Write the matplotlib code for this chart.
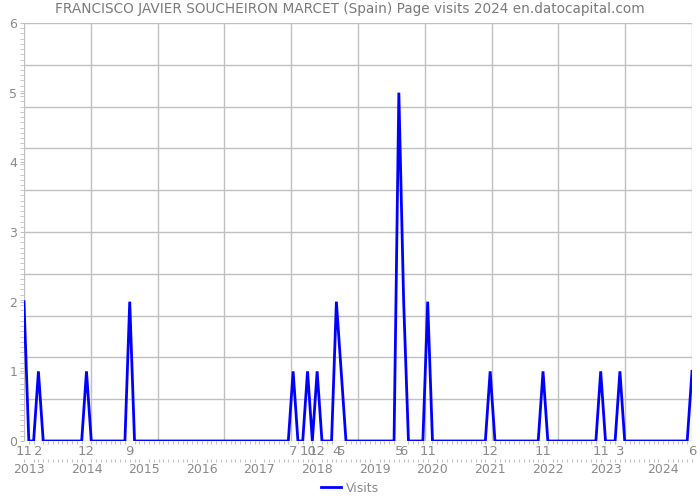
import numpy as np
import pandas as pd
import matplotlib
matplotlib.use("Agg")
import matplotlib.pyplot as plt
from matplotlib.ticker import FixedLocator, MultipleLocator

# ---- data ----
start_month = "2013-11"
end_month = "2025-06"
visit_months = ["2013-11", "2014-02", "2014-12", "2015-09", "2018-07", "2018-10",
                "2018-12", "2019-04", "2019-05", "2020-05", "2020-06", "2020-11",
                "2021-12", "2022-11", "2023-11", "2024-03", "2025-06"]
visit_counts = [2, 1, 1, 2, 1, 1, 1, 2, 1, 5, 2, 2, 1, 1, 1, 1, 1]
year_labels = ["2013", "2014", "2015", "2016", "2017", "2018",
               "2019", "2020", "2021", "2022", "2023", "2024"]
title = "FRANCISCO JAVIER SOUCHEIRON MARCET (Spain) Page visits 2024 en.datocapital.com"
series_name = "Visits"

# ---- build monthly series ----
periods = pd.period_range(start_month, end_month, freq="M")
values = pd.Series(0.0, index=periods)
for m, v in zip(visit_months, visit_counts):
    values[pd.Period(m, freq="M")] = v
x = np.arange(len(periods))
pos = {str(p): i for i, p in enumerate(periods)}

grey_text = "#8a8a8a"
grid_col = "#c0c0c0"

fig = plt.figure(figsize=(7, 5), dpi=100)
ax = fig.add_axes([24 / 700, 1 - 441 / 500, (692 - 24) / 700, (441 - 23) / 500])

ax.set_xlim(0, len(periods) - 1)
ax.set_ylim(0, 6)

# grid lines (10 divisions each way)
for gx in np.linspace(0, len(periods) - 1, 11):
    ax.axvline(gx, color=grid_col, lw=1, zorder=0)
for gy in np.linspace(0, 6, 11):
    ax.axhline(gy, color=grid_col, lw=1, zorder=0)

ax.plot(x, values.values, color="#0000ff", lw=2, label=series_name, zorder=3,
        solid_joinstyle="miter")

for s in ax.spines.values():
    s.set_visible(False)

# y axis: integer labels, small minor ticks
ax.yaxis.set_major_locator(FixedLocator(range(0, 7)))
ax.yaxis.set_minor_locator(MultipleLocator(0.075))
ax.tick_params(axis="y", which="major", length=3, color=grid_col, labelcolor=grey_text,
               labelsize=9, pad=2)
ax.tick_params(axis="y", which="minor", length=3, color=grid_col)

# x axis: month labels at nonzero months, monthly minor ticks
nz_idx = [pos[m] for m in visit_months]
nz_lab = [str(int(m.split("-")[1])) for m in visit_months]
ax.xaxis.set_major_locator(FixedLocator(nz_idx))
ax.set_xticklabels(nz_lab)
ax.xaxis.set_minor_locator(MultipleLocator(1))
ax.tick_params(axis="x", which="major", length=0, labelcolor=grey_text, labelsize=9.5, pad=3)
ax.tick_params(axis="x", which="minor", length=2, color=grid_col, width=0.8)

# second row: year labels at December of each year
sec = ax.secondary_xaxis(-0.043)
sec.spines["bottom"].set_visible(False)
sec.xaxis.set_major_locator(FixedLocator([pos[y + "-12"] for y in year_labels]))
sec.set_xticklabels(year_labels)
sec.xaxis.set_minor_locator(MultipleLocator(1))
sec.tick_params(axis="x", which="major", length=0, labelcolor=grey_text, labelsize=9, pad=3)
sec.tick_params(axis="x", which="minor", length=2, color=grid_col, width=0.8)

fig.text(0.5, 0.982, title, ha="center", va="center", fontsize=9.8, color="#7a7a7a")

fig.legend(loc="lower center", bbox_to_anchor=(0.5, -0.012), frameon=False, fontsize=9,
           labelcolor=grey_text, handlelength=1.6, handletextpad=0.4)

fig.savefig("out.png", dpi=100)
